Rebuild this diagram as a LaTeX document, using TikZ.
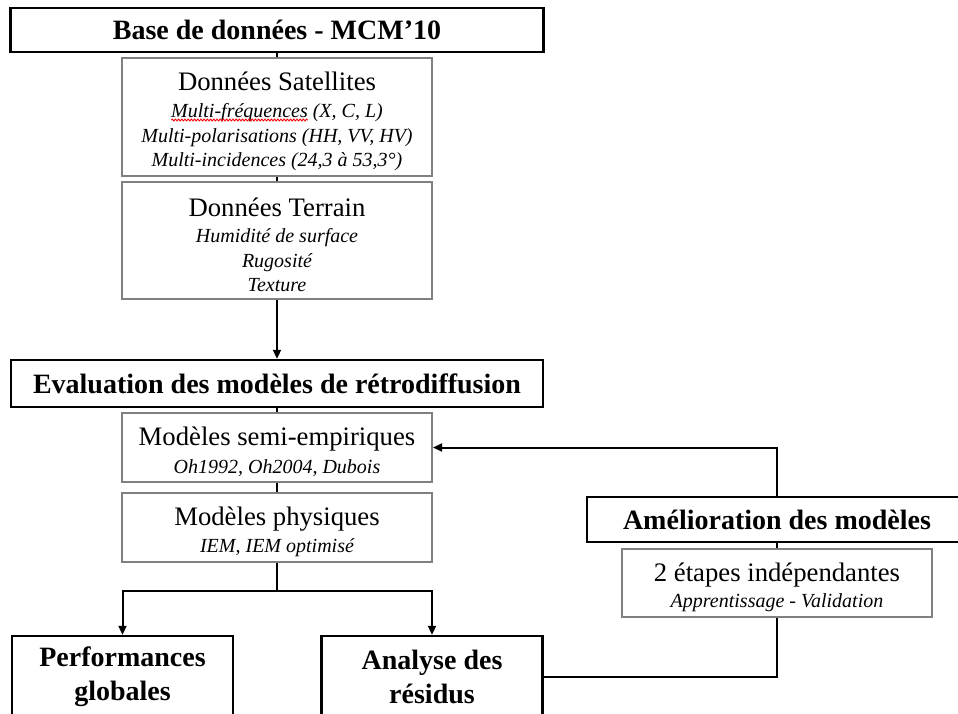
\documentclass[tikz,border=0pt]{standalone}
\usepackage{fontspec}
\setmainfont{Liberation Serif}
\usetikzlibrary{arrows.meta,decorations.pathmorphing}
\definecolor{boxgray}{RGB}{128,128,128}
\newlength\fullw
\newlength\partw
\newcommand\hdline[1]{{\fontsize{26.7}{26.7}\selectfont\rule{0pt}{27pt}#1}}
\newcommand\itline[1]{{\itshape #1}}
\tikzset{
  mainbox/.style={draw=black, line width=2.4pt, rectangle, inner sep=0pt, align=center,
    font=\fontsize{28}{34}\selectfont\bfseries},
  subbox/.style={draw=boxgray, line width=2pt, rectangle, inner sep=0pt, align=center,
    font=\fontsize{20}{24.5}\selectfont},
  conn/.style={line width=2pt, draw=black},
  arr/.style={conn, -{Triangle[length=9pt,width=8pt]}},
  squig/.style={draw=red, line width=0.9pt, decorate,
    decoration={snake, amplitude=0.9pt, segment length=3.2pt}}
}
\begin{document}
\settowidth\fullw{\fontsize{20}{24.5}\selectfont\itshape Multi-fréquences (X, C, L)}%
\settowidth\partw{\fontsize{20}{24.5}\selectfont\itshape Multi-fréquences}%
\begin{tikzpicture}[x=1pt,y=-1pt]
\useasboundingbox[fill=white] (0,0) rectangle (958,713);

\node[mainbox, minimum width=533pt, minimum height=44pt] (top) at (277,30)
  {Base de données - MCM’10};
\node[subbox, minimum width=310pt, minimum height=118pt] (sat) at (277,117)
  {\hdline{Données Satellites}\\[3pt]
   \itline{Multi-fréquences (X, C, L)}\\
   \itline{Multi-polarisations (HH, VV, HV)}\\
   \itline{Multi-incidences (24,3 à 53,3°)}};
\node[subbox, minimum width=310pt, minimum height=117pt] (ter) at (277,240.5)
  {\hdline{Données Terrain}\\[2pt]
   \itline{Humidité de surface}\\
   \itline{Rugosité}\\
   \itline{Texture}};
\node[mainbox, minimum width=532pt, minimum height=47pt] (eval) at (277,383.5)
  {Evaluation des modèles de rétrodiffusion};
\node[subbox, minimum width=310pt, minimum height=69pt] (semi) at (277,447.5)
  {\hdline{Modèles semi-empiriques}\\[3pt]
   \itline{Oh1992, Oh2004, Dubois}};
\node[subbox, minimum width=310pt, minimum height=69pt] (phys) at (277,527.5)
  {\hdline{Modèles physiques}\\[3pt]
   \itline{IEM, IEM optimisé}};
\node[mainbox, minimum width=221pt, minimum height=81pt] (perf) at (122.5,676.5)
  {Performances\\globales};
\node[mainbox, minimum width=221pt, minimum height=81pt] (anal) at (432,676.5)
  {Analyse des\\résidus};
\node[mainbox, minimum width=380pt, minimum height=45pt] (amel) at (777,519.5)
  {Amélioration des modèles};
\node[subbox, minimum width=310pt, minimum height=68pt] (etap) at (777,583)
  {\hdline{2 étapes indépendantes}\\[2pt]
   \itline{Apprentissage - Validation}};

\coordinate (split) at (277,591);

\draw[conn] (top.south) -- (sat.north);
\draw[conn] (sat.south) -- (ter.north);
\draw[arr] (ter.south) -- (eval.north);
\draw[conn] (eval.south) -- (semi.north);
\draw[conn] (semi.south) -- (phys.north);
\draw[conn] (phys.south) -- (split);
\draw[arr] (split) -| (perf.north);
\draw[arr] (split) -| (anal.north);
\draw[conn] (anal.east) -| (etap.south);
\draw[arr] (amel.north) |- (semi.east);
\draw[conn] (amel.south) -- (etap.north);

\coordinate (sqa) at ([xshift=-0.5\fullw, yshift=-120pt]0pt,0pt);
\path (sqa) ++(277,0) coordinate (sqa);
\path (sqa) ++(\partw,0pt) coordinate (sqb);
\draw[squig] (sqa) -- (sqb);
\end{tikzpicture}
\end{document}
